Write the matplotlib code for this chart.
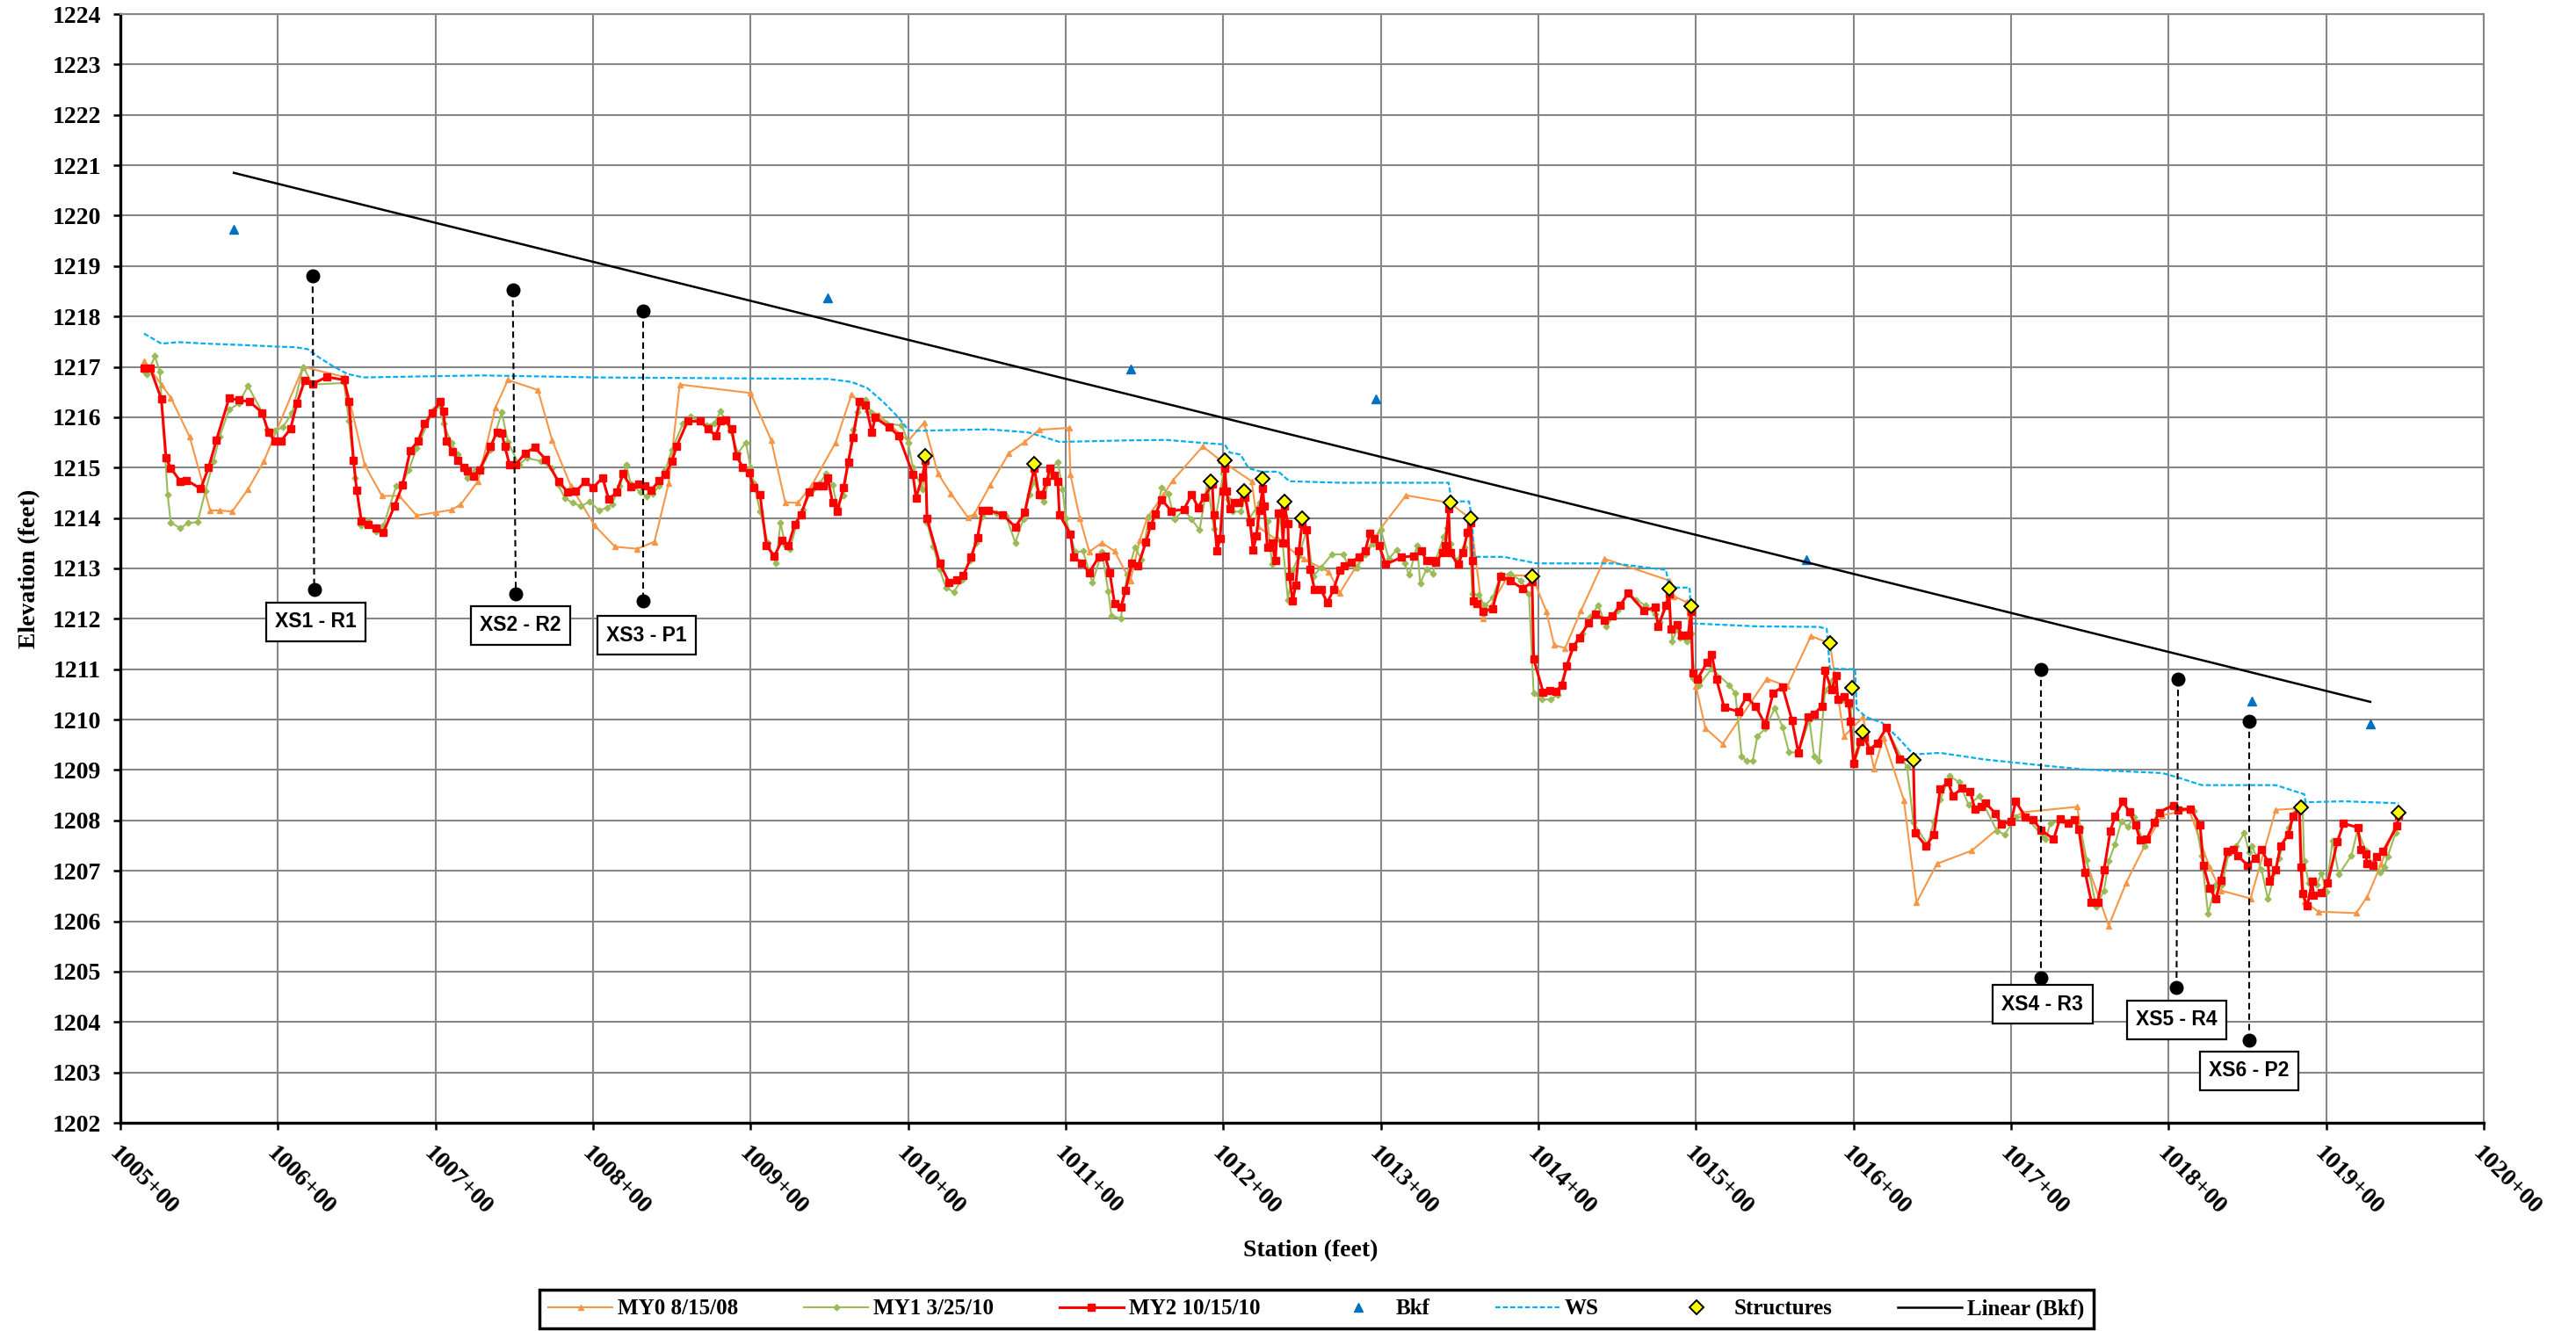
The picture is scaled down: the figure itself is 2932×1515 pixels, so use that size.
import numpy as np
import matplotlib
matplotlib.use("Agg")
import matplotlib.pyplot as plt
from matplotlib.ticker import FixedLocator, FuncFormatter

# ---------------- data (station in feet, elevation in feet) ----------------
my0_sta = [100515, 100526, 100532, 100544, 100557, 100563, 100571, 100581, 100591, 100616,
           100642, 100655, 100666, 100677, 100688, 100700, 100710, 100716, 100727, 100738,
           100746, 100765, 100774, 100786, 100801, 100814, 100828, 100839, 100848, 100855,
           100900, 100913, 100922, 100930, 100939, 100954, 100964, 100974, 100981, 101000,
           101010, 101019, 101027, 101038, 101042, 101052, 101064, 101074, 101083, 101102,
           101103, 101109, 101115, 101123, 101131, 101141, 101147, 101152, 101162, 101168,
           101187, 101198, 101218, 101222, 101251, 101267, 101274, 101284, 101300, 101316,
           101344, 101357, 101365, 101381, 101396, 101405, 101410, 101417, 101427, 101442,
           101483, 101486, 101494, 101500, 101506, 101517, 101545, 101558, 101573, 101585,
           101594, 101606, 101613, 101619, 101632, 101640, 101653, 101675, 101691, 101707,
           101742, 101747, 101762, 101773, 101785, 101796, 101813, 101826, 101833, 101852,
           101868, 101883, 101886, 101895, 101919, 101926, 101935, 101946]
my0_elev = [1217.12, 1216.65, 1216.39, 1215.61, 1214.15, 1214.15, 1214.13, 1214.57, 1215.12, 1217.00,
            1216.80, 1215.06, 1214.44, 1214.44, 1214.05, 1214.11, 1214.16, 1214.27, 1214.73, 1216.19,
            1216.74, 1216.54, 1215.55, 1214.63, 1213.85, 1213.43, 1213.39, 1213.53, 1214.69, 1216.65,
            1216.48, 1215.55, 1214.31, 1214.30, 1214.66, 1215.50, 1216.45, 1216.16, 1216.05, 1215.53,
            1215.89, 1214.88, 1214.49, 1214.01, 1214.08, 1214.65, 1215.29, 1215.51, 1215.75, 1215.79,
            1214.86, 1213.99, 1213.33, 1213.51, 1213.34, 1212.75, 1213.56, 1214.02, 1214.46, 1214.75,
            1215.42, 1215.15, 1214.73, 1213.83, 1213.19, 1212.93, 1212.52, 1213.02, 1213.80, 1214.45,
            1214.30, 1213.98, 1212.00, 1212.87, 1212.85, 1212.15, 1211.48, 1211.42, 1212.16, 1213.19,
            1212.76, 1212.45, 1212.33, 1210.66, 1209.83, 1209.52, 1210.81, 1210.66, 1211.66, 1211.51,
            1209.67, 1210.05, 1209.03, 1209.63, 1208.40, 1206.37, 1207.14, 1207.40, 1207.82, 1208.16,
            1208.27, 1207.25, 1205.91, 1206.76, 1207.51, 1208.10, 1208.21, 1207.07, 1206.61, 1206.45,
            1208.21, 1208.24, 1206.39, 1206.19, 1206.16, 1206.48, 1207.14, 1208.10]

my1_sta = [100515, 100517, 100522, 100525, 100530, 100532, 100538, 100543, 100549, 100554,
           100559, 100563, 100569, 100575, 100581, 100590, 100593, 100598, 100603, 100609,
           100616, 100622, 100642, 100645, 100649, 100653, 100657, 100662, 100667, 100675,
           100679, 100683, 100688, 100699, 100703, 100705, 100710, 100714, 100720, 100725,
           100729, 100735, 100742, 100746, 100753, 100758, 100767, 100774, 100778, 100782,
           100787, 100792, 100798, 100804, 100809, 100812, 100817, 100821, 100824, 100830,
           100834, 100838, 100842, 100846, 100850, 100857, 100862, 100872, 100877, 100881,
           100887, 100892, 100897, 100900, 100902, 100906, 100911, 100916, 100919, 100922,
           100925, 100929, 100933, 100939, 100944, 100948, 100952, 100955, 100959, 100962,
           100965, 100968, 100973, 100976, 100981, 100986, 100996, 101000, 101003, 101009,
           101011, 101012, 101016, 101020, 101024, 101029, 101034, 101039, 101043, 101047,
           101051, 101056, 101062, 101068, 101073, 101077, 101080, 101083, 101086, 101091,
           101095, 101098, 101100, 101106, 101111, 101117, 101123, 101127, 101129, 101135,
           101139, 101144, 101148, 101153, 101157, 101161, 101165, 101169, 101175, 101180,
           101185, 101190, 101194, 101200, 101203, 101206, 101211, 101214, 101216, 101223,
           101225, 101228, 101231, 101234, 101236, 101241, 101244, 101248, 101253, 101257,
           101262, 101269, 101276, 101279, 101285, 101290, 101295, 101300, 101305, 101310,
           101315, 101318, 101323, 101325, 101329, 101333, 101335, 101340, 101342, 101344,
           101348, 101353, 101356, 101358, 101362, 101366, 101371, 101376, 101382, 101389,
           101394, 101397, 101402, 101408, 101412, 101418, 101423, 101428, 101433, 101438,
           101443, 101450, 101457, 101462, 101468, 101474, 101477, 101483, 101485, 101488,
           101490, 101494, 101497, 101498, 101502, 101510, 101521, 101525, 101529, 101532,
           101536, 101539, 101544, 101550, 101555, 101559, 101565, 101572, 101575, 101578,
           101582, 101587, 101591, 101598, 101601, 101606, 101611, 101616, 101621, 101631,
           101634, 101638, 101647, 101651, 101655, 101661, 101667, 101673, 101680, 101691,
           101696, 101703, 101710, 101720, 101722, 101725, 101733, 101740, 101744, 101748,
           101754, 101759, 101762, 101766, 101770, 101774, 101778, 101785, 101793, 101802,
           101816, 101821, 101825, 101830, 101834, 101838, 101843, 101848, 101851, 101853,
           101859, 101863, 101870, 101876, 101880, 101885, 101886, 101889, 101894, 101897,
           101900, 101904, 101908, 101916, 101920, 101925, 101929, 101934, 101937, 101939,
           101944, 101946]
my1_elev = [1216.92, 1216.86, 1217.21, 1216.90, 1214.46, 1213.91, 1213.80, 1213.90, 1213.92, 1214.54,
            1215.12, 1215.61, 1216.15, 1216.27, 1216.62, 1216.10, 1215.76, 1215.73, 1215.80, 1216.08,
            1217.00, 1216.65, 1216.68, 1215.93, 1214.79, 1213.85, 1213.94, 1213.73, 1213.85, 1214.63,
            1214.69, 1214.95, 1215.38, 1216.16, 1216.22, 1215.87, 1215.50, 1215.27, 1214.79, 1214.95,
            1214.98, 1215.35, 1216.10, 1215.51, 1215.06, 1215.19, 1215.13, 1214.98, 1214.65, 1214.40,
            1214.30, 1214.24, 1214.32, 1214.15, 1214.21, 1214.28, 1214.63, 1215.06, 1214.67, 1214.51,
            1214.43, 1214.49, 1214.63, 1214.96, 1215.35, 1215.87, 1216.01, 1215.84, 1215.88, 1216.12,
            1215.73, 1215.29, 1215.50, 1215.00, 1214.69, 1214.14, 1213.50, 1213.10, 1213.91, 1213.46,
            1213.39, 1213.85, 1214.17, 1214.56, 1214.69, 1214.89, 1214.66, 1214.23, 1214.45, 1215.12,
            1215.75, 1216.10, 1216.35, 1216.10, 1215.99, 1215.87, 1215.84, 1215.50, 1215.00, 1214.57,
            1215.06, 1213.91, 1213.44, 1212.98, 1212.62, 1212.53, 1212.78, 1213.16, 1213.50, 1214.02,
            1214.17, 1214.09, 1214.05, 1213.51, 1213.97, 1214.46, 1214.72, 1214.46, 1214.32, 1215.00,
            1215.11, 1214.57, 1213.99, 1213.33, 1213.34, 1212.72, 1213.33, 1212.55, 1212.06, 1212.01,
            1212.87, 1213.42, 1213.18, 1214.02, 1214.05, 1214.61, 1214.49, 1213.97, 1214.17, 1213.97,
            1213.76, 1214.72, 1213.79, 1214.88, 1214.38, 1214.13, 1214.13, 1214.41, 1213.96, 1214.30,
            1214.18, 1213.95, 1213.08, 1213.60, 1214.06, 1212.38, 1212.96, 1213.25, 1213.77, 1212.84,
            1213.02, 1213.28, 1213.28, 1213.08, 1213.02, 1213.28, 1213.48, 1213.77, 1213.19, 1213.37,
            1213.10, 1212.87, 1213.45, 1212.70, 1212.99, 1212.90, 1213.18, 1213.63, 1213.80, 1213.48,
            1213.15, 1213.42, 1213.80, 1212.49, 1212.47, 1212.26, 1212.42, 1212.87, 1212.89, 1212.76,
            1212.49, 1210.52, 1210.40, 1210.40, 1210.49, 1211.07, 1211.45, 1211.71, 1212.04, 1212.27,
            1211.85, 1212.16, 1212.51, 1212.38, 1212.26, 1212.09, 1211.94, 1212.55, 1211.56, 1211.80,
            1211.62, 1211.56, 1211.71, 1210.82, 1210.69, 1211.01, 1210.69, 1210.52, 1209.27, 1209.18,
            1209.18, 1209.67, 1209.82, 1210.23, 1209.85, 1209.35, 1209.35, 1209.99, 1209.27, 1209.18,
            1210.58, 1210.78, 1210.40, 1210.26, 1209.18, 1209.65, 1209.41, 1209.56, 1209.82, 1209.21,
            1209.06, 1207.96, 1207.52, 1207.98, 1208.41, 1208.88, 1208.76, 1208.31, 1208.48, 1207.79,
            1207.72, 1208.07, 1208.05, 1207.69, 1207.63, 1207.95, 1207.99, 1208.02, 1207.86, 1207.21,
            1206.29, 1206.61, 1207.19, 1207.53, 1207.98, 1207.88, 1208.06, 1207.50, 1208.16, 1208.30,
            1208.19, 1207.30, 1206.15, 1206.73, 1206.73, 1207.34, 1207.49, 1207.75, 1207.37, 1207.49,
            1207.02, 1206.44, 1207.25, 1207.86, 1208.16, 1208.33, 1207.19, 1206.76, 1206.72, 1206.95,
            1206.58, 1207.60, 1206.93, 1207.30, 1207.82, 1207.40, 1207.14, 1206.97, 1207.08, 1207.28,
            1207.75, 1208.13]

my2_sta = [100515, 100519, 100526, 100529, 100532, 100538, 100542, 100551, 100556, 100561,
           100569, 100575, 100582, 100590, 100594, 100598, 100602, 100608, 100612, 100617,
           100622, 100631, 100642, 100645, 100648, 100650, 100653, 100657, 100662, 100667,
           100674, 100679, 100684, 100689, 100693, 100698, 100703, 100705, 100707, 100711,
           100714, 100718, 100720, 100724, 100728, 100735, 100739, 100742, 100744, 100747,
           100751, 100757, 100763, 100770, 100778, 100784, 100789, 100795, 100800, 100806,
           100810, 100815, 100819, 100824, 100829, 100833, 100837, 100842, 100846, 100850,
           100853, 100860, 100868, 100873, 100878, 100881, 100884, 100888, 100891, 100895,
           100899, 100902, 100906, 100910, 100915, 100920, 100924, 100928, 100932, 100937,
           100942, 100946, 100949, 100952, 100955, 100959, 100962, 100965, 100969, 100973,
           100977, 100979, 100988, 100994, 101003, 101005, 101009, 101011, 101012, 101020,
           101026, 101031, 101035, 101040, 101044, 101047, 101051, 101060, 101068, 101074,
           101080, 101083, 101085, 101088, 101090, 101093, 101095, 101096, 101103, 101105,
           101110, 101115, 101121, 101125, 101128, 101131, 101135, 101138, 101142, 101146,
           101151, 101154, 101157, 101161, 101167, 101175, 101180, 101184, 101188, 101193,
           101194, 101196, 101198, 101200, 101201, 101202, 101204, 101207, 101210, 101213,
           101214, 101217, 101219, 101221, 101223, 101225, 101226, 101228, 101231, 101233,
           101235, 101237, 101238, 101239, 101241, 101242, 101244, 101246, 101248, 101250,
           101253, 101255, 101258, 101262, 101266, 101270, 101274, 101277, 101281, 101286,
           101290, 101293, 101296, 101299, 101303, 101313, 101321, 101326, 101329, 101333,
           101335, 101339, 101341, 101343, 101344, 101349, 101352, 101355, 101357, 101358,
           101359, 101361, 101365, 101371, 101376, 101382, 101390, 101396, 101397, 101403,
           101407, 101411, 101415, 101418, 101422, 101426, 101432, 101436, 101442, 101447,
           101452, 101457, 101467, 101474, 101476, 101481, 101483, 101484, 101488, 101491,
           101495, 101497, 101498, 101501, 101507, 101510, 101513, 101518, 101527, 101532,
           101538, 101544, 101549, 101555, 101561, 101565, 101571, 101575, 101580, 101582,
           101586, 101589, 101590, 101594, 101597, 101598, 101600, 101604, 101607, 101610,
           101615, 101621, 101629, 101638, 101639, 101646, 101651, 101655, 101660, 101663,
           101669, 101674, 101677, 101681, 101684, 101690, 101694, 101700, 101703, 101709,
           101714, 101719, 101727, 101731, 101736, 101740, 101743, 101747, 101751, 101755,
           101759, 101763, 101766, 101771, 101775, 101779, 101782, 101786, 101791, 101794,
           101803, 101806, 101814, 101820, 101822, 101826, 101830, 101833, 101837, 101841,
           101844, 101850, 101855, 101859, 101863, 101864, 101868, 101871, 101876, 101879,
           101883, 101884, 101885, 101888, 101891, 101892, 101897, 101901, 101907, 101911,
           101920, 101922, 101925, 101926, 101930, 101932, 101936, 101945, 101946]
my2_elev = [1216.97, 1216.97, 1216.36, 1215.19, 1214.99, 1214.73, 1214.75, 1214.58, 1215.00, 1215.55,
            1216.38, 1216.34, 1216.31, 1216.09, 1215.70, 1215.53, 1215.53, 1215.77, 1216.27, 1216.73,
            1216.66, 1216.80, 1216.74, 1216.32, 1215.14, 1214.55, 1213.94, 1213.88, 1213.80, 1213.72,
            1214.24, 1214.65, 1215.34, 1215.53, 1215.87, 1216.09, 1216.31, 1216.12, 1215.53, 1215.32,
            1215.14, 1215.00, 1214.94, 1214.83, 1214.96, 1215.42, 1215.71, 1215.69, 1215.42, 1215.06,
            1215.06, 1215.29, 1215.40, 1215.16, 1214.73, 1214.51, 1214.53, 1214.72, 1214.60, 1214.80,
            1214.37, 1214.51, 1214.88, 1214.62, 1214.67, 1214.64, 1214.55, 1214.75, 1214.86, 1215.12,
            1215.42, 1215.92, 1215.92, 1215.77, 1215.63, 1215.93, 1215.94, 1215.77, 1215.23, 1215.01,
            1214.90, 1214.60, 1214.46, 1213.46, 1213.24, 1213.56, 1213.46, 1213.87, 1214.07, 1214.51,
            1214.63, 1214.63, 1214.79, 1214.31, 1214.14, 1214.60, 1215.11, 1215.60, 1216.31, 1216.25,
            1215.70, 1215.99, 1215.80, 1215.63, 1214.87, 1214.40, 1214.82, 1215.14, 1213.99, 1213.10,
            1212.72, 1212.77, 1212.86, 1213.23, 1213.61, 1214.15, 1214.15, 1214.07, 1213.82, 1214.11,
            1214.99, 1214.46, 1214.46, 1214.73, 1214.99, 1214.84, 1214.72, 1214.07, 1213.68, 1213.23,
            1213.11, 1212.92, 1213.23, 1213.25, 1212.91, 1212.30, 1212.23, 1212.57, 1213.10, 1213.06,
            1213.53, 1213.86, 1214.08, 1214.36, 1214.14, 1214.17, 1214.47, 1214.21, 1214.42, 1214.67,
            1214.06, 1213.35, 1213.60, 1214.53, 1214.99, 1214.54, 1214.19, 1214.30, 1214.31, 1214.47,
            1214.41, 1213.92, 1213.37, 1213.65, 1214.15, 1214.59, 1214.24, 1213.42, 1213.51, 1213.16,
            1214.09, 1214.09, 1213.51, 1214.24, 1213.89, 1212.85, 1212.35, 1212.67, 1213.34, 1213.89,
            1213.77, 1212.99, 1212.58, 1212.58, 1212.32, 1212.58, 1212.96, 1213.06, 1213.13, 1213.22,
            1213.35, 1213.69, 1213.60, 1213.45, 1213.08, 1213.22, 1213.25, 1213.34, 1213.15, 1213.15,
            1213.12, 1213.31, 1213.45, 1214.18, 1213.31, 1213.08, 1213.31, 1213.72, 1213.90, 1213.15,
            1212.35, 1212.31, 1212.15, 1212.20, 1212.85, 1212.76, 1212.60, 1212.73, 1211.20, 1210.55,
            1210.58, 1210.56, 1210.69, 1211.07, 1211.44, 1211.63, 1211.92, 1212.10, 1211.98, 1212.06,
            1212.27, 1212.51, 1212.16, 1212.23, 1211.85, 1212.26, 1212.49, 1211.80, 1211.88, 1211.68,
            1211.68, 1212.14, 1210.92, 1210.81, 1211.13, 1211.30, 1210.80, 1210.24, 1210.16, 1210.45,
            1210.26, 1209.90, 1210.53, 1210.65, 1209.98, 1209.34, 1210.05, 1210.11, 1210.27, 1210.97,
            1210.59, 1210.87, 1210.40, 1210.46, 1210.34, 1209.97, 1209.13, 1209.56, 1209.65, 1209.40,
            1209.53, 1209.85, 1209.21, 1209.20, 1207.76, 1207.49, 1207.72, 1208.62, 1208.76, 1208.49,
            1208.64, 1208.58, 1208.23, 1208.27, 1208.34, 1208.14, 1207.92, 1207.98, 1208.38, 1208.07,
            1208.01, 1207.81, 1207.63, 1208.03, 1207.94, 1208.02, 1207.82, 1206.97, 1206.38, 1206.38,
            1207.02, 1207.79, 1208.08, 1208.38, 1208.17, 1207.91, 1207.61, 1207.63, 1207.96, 1208.16,
            1208.30, 1208.21, 1208.23, 1207.91, 1207.11, 1206.66, 1206.44, 1206.82, 1207.38, 1207.43,
            1207.30, 1207.11, 1207.24, 1207.42, 1207.18, 1206.79, 1207.02, 1207.49, 1207.72, 1208.08,
            1208.26, 1207.07, 1206.55, 1206.30, 1206.79, 1206.52, 1206.57, 1206.76, 1207.57, 1207.94,
            1207.86, 1207.43, 1207.34, 1207.14, 1207.11, 1207.28, 1207.38, 1207.89, 1208.10]

bkf_sta = [100572, 100949, 101141, 101297, 101570, 101853, 101928]
bkf_elev = [1219.73, 1218.37, 1216.95, 1216.37, 1213.17, 1210.37, 1209.91]

ws_sta = [100515, 100526, 100537, 100555, 100580, 100600, 100611, 100619, 100624, 100634,
          100644, 100654, 100729, 100803, 100899, 100949, 100964, 100974, 100984, 100994,
          101000, 101004, 101051, 101076, 101086, 101096, 101138, 101164, 101187, 101201,
          101204, 101211, 101216, 101224, 101235, 101242, 101274, 101343, 101345, 101356,
          101358, 101359, 101378, 101399, 101448, 101481, 101483, 101496, 101497, 101539,
          101578, 101583, 101585, 101601, 101602, 101608, 101618, 101628, 101638, 101655,
          101683, 101720, 101747, 101796, 101805, 101821, 101868, 101886, 101887, 101911,
          101946]
ws_elev = [1217.66, 1217.46, 1217.49, 1217.46, 1217.43, 1217.40, 1217.39, 1217.35, 1217.23, 1217.03,
           1216.86, 1216.79, 1216.83, 1216.79, 1216.77, 1216.76, 1216.70, 1216.58, 1216.31, 1215.99,
           1215.75, 1215.73, 1215.76, 1215.70, 1215.61, 1215.51, 1215.54, 1215.55, 1215.49, 1215.46,
           1215.30, 1215.26, 1214.99, 1214.92, 1214.92, 1214.73, 1214.70, 1214.70, 1214.33, 1214.33,
           1213.95, 1213.23, 1213.23, 1213.10, 1213.10, 1212.97, 1212.62, 1212.62, 1211.91, 1211.85,
           1211.84, 1211.80, 1211.01, 1211.00, 1210.22, 1210.05, 1209.94, 1209.65, 1209.31, 1209.34,
           1209.21, 1209.09, 1209.01, 1208.94, 1208.86, 1208.70, 1208.70, 1208.52, 1208.36, 1208.38,
           1208.34]

struct_sta = [101011, 101080, 101192, 101201, 101213, 101225, 101239, 101250, 101344, 101357,
              101396, 101483, 101497, 101585, 101599, 101606, 101638, 101884, 101946]
struct_elev = [1215.23, 1215.08, 1214.73, 1215.14, 1214.54, 1214.77, 1214.32, 1213.99, 1214.30, 1213.99,
               1212.85, 1212.60, 1212.25, 1211.51, 1210.63, 1209.76, 1209.20, 1208.26, 1208.16]

xs_names = ["XS1 - R1", "XS2 - R2", "XS3 - P1", "XS4 - R3", "XS5 - R4", "XS6 - P2"]
xs_top_sta = [100622, 100749, 100832, 101719, 101806, 101851]
xs_top_elev = [1218.80, 1218.53, 1218.11, 1211.00, 1210.80, 1209.97]
xs_bot_sta = [100623, 100751, 100832, 101719, 101805, 101851]
xs_bot_elev = [1212.59, 1212.49, 1212.36, 1204.88, 1204.68, 1203.63]
xs_lab_sta = [100624, 100754, 100834, 101720, 101805, 101851]
xs_lab_elev = [1211.94, 1211.87, 1211.67, 1204.35, 1204.04, 1203.03]

x_ticks = list(range(100500, 102001, 100))
y_ticks = list(range(1202, 1225))

# ---------------- styling ----------------
plt.rcParams['font.family'] = ['Liberation Serif', 'DejaVu Serif']
plt.rcParams['font.weight'] = 'bold'

W, H = 2932, 1515
fig = plt.figure(figsize=(W / 100, H / 100), dpi=100)
ax = fig.add_axes([137 / W, 237 / H, 2690 / W, 1262 / H])

GRID = '#868686'
C_MY0 = '#F79646'
C_MY1 = '#9BBB59'
C_MY2 = '#FF0000'
C_BKF = '#0070C0'
C_WS = '#00B0F0'

h_my0, = ax.plot(my0_sta, my0_elev, color=C_MY0, lw=1.5, marker='^', ms=4.8,
                 mec=C_MY0, mfc=C_MY0, zorder=3, label='MY0 8/15/08')
h_my1, = ax.plot(my1_sta, my1_elev, color=C_MY1, lw=1.5, marker='D', ms=3.5,
                 mec=C_MY1, mfc=C_MY1, zorder=4, label='MY1 3/25/10')
h_my2, = ax.plot(my2_sta, my2_elev, color=C_MY2, lw=2.2, marker='s', ms=5.2,
                 mec=C_MY2, mfc=C_MY2, zorder=5, label='MY2 10/15/10')
h_bkf, = ax.plot(bkf_sta, bkf_elev, ls='none', marker='^', ms=7, color=C_BKF,
                 zorder=6, label='Bkf')
h_ws, = ax.plot(ws_sta, ws_elev, color=C_WS, lw=1.6, ls=(0, (2.6, 1.2)), zorder=4.5,
                label='WS')
h_st, = ax.plot(struct_sta, struct_elev, ls='none', marker='D', ms=8.5, mfc='#FFFF00',
                mec='black', mew=1.4, zorder=7, label='Structures')

# linear trendline of bankfull points
coef = np.polyfit(np.array(bkf_sta, float) - 100000, np.array(bkf_elev), 1)
xl = np.array([min(bkf_sta), max(bkf_sta)], float)
h_lin, = ax.plot(xl, np.polyval(coef, xl - 100000), color='black', lw=1.8, zorder=6,
                 label='Linear (Bkf)')

# cross-section markers
for name, ts, te, bs, be, ls_, le in zip(xs_names, xs_top_sta, xs_top_elev, xs_bot_sta,
                                          xs_bot_elev, xs_lab_sta, xs_lab_elev):
    ax.plot([ts, bs], [te, be], color='black', lw=1.5, ls=(0, (3.5, 2.2)),
            marker='o', ms=10.5, zorder=8)
    ax.text(ls_, le, name, ha='center', va='center', fontsize=16.5, fontweight='bold',
            family=['Liberation Sans', 'DejaVu Sans'], zorder=9,
            bbox=dict(boxstyle='square,pad=0.45', fc='white', ec='black', lw=1.6))

# axes
ax.set_xlim(100500, 102000)
ax.set_ylim(1202, 1224)
ax.xaxis.set_major_locator(FixedLocator(x_ticks))
ax.yaxis.set_major_locator(FixedLocator(y_ticks))
ax.xaxis.set_major_formatter(FuncFormatter(lambda v, p: f"{int(round(v)) // 100}+{int(round(v)) % 100:02d}"))
ax.yaxis.set_major_formatter(FuncFormatter(lambda v, p: f"{int(round(v))}"))
ax.grid(True, color=GRID, lw=1.5)
ax.set_axisbelow(True)
for s in ['top', 'right']:
    ax.spines[s].set_color(GRID)
    ax.spines[s].set_linewidth(1.5)
for s in ['left', 'bottom']:
    ax.spines[s].set_color('black')
    ax.spines[s].set_linewidth(2.4)
ax.tick_params(axis='both', direction='out', length=6, width=1.8, color='black',
               labelsize=20)
ax.tick_params(axis='y', pad=10)
ax.tick_params(axis='x', pad=10)
for lbl in ax.get_xticklabels():
    lbl.set_rotation(-45)
    lbl.set_ha('left')
    lbl.set_va('top')
    lbl.set_rotation_mode('anchor')
    lbl.set_fontweight('bold')
for lbl in ax.get_yticklabels():
    lbl.set_fontweight('bold')

ax.set_xlabel('Station (feet)', fontsize=20, fontweight='bold')
ax.set_ylabel('Elevation (feet)', fontsize=20, fontweight='bold')
ax.xaxis.set_label_coords(0.5037, -0.115)
ax.xaxis.label.set_va('center')
ax.yaxis.set_label_coords(-0.0383, 0.5)
ax.yaxis.label.set_va('center')

leg = fig.legend(handles=[h_my0, h_my1, h_my2, h_bkf, h_ws, h_st, h_lin],
                 loc='center', bbox_to_anchor=(1498.5 / W, 25 / H), ncol=7,
                 prop=dict(family=['Liberation Serif', 'DejaVu Serif'], weight='bold', size=18),
                 handlelength=2.9, handletextpad=0.25, columnspacing=3.0,
                 frameon=True, fancybox=False, edgecolor='black', framealpha=1,
                 borderpad=0.4, borderaxespad=0)
leg.get_frame().set_linewidth(2.5)

fig.savefig('out.png', dpi=100)
